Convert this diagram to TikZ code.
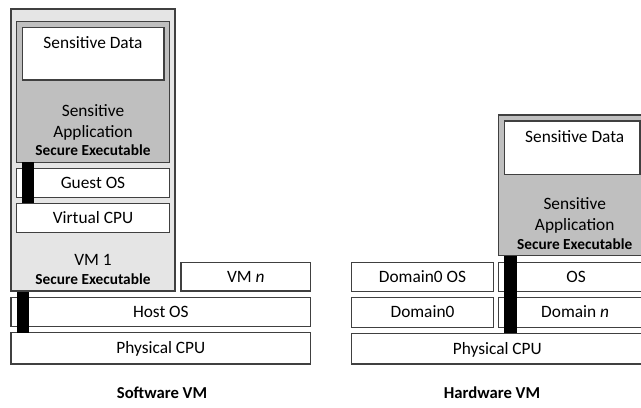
\documentclass[tikz,border=0pt]{standalone}
\usepackage{fontspec}
\setmainfont{Carlito}
\usetikzlibrary{fit}
\begin{document}
\begin{tikzpicture}[x=0.75pt,y=-0.75pt,
 box/.style={draw=black!75, line width=0.8pt, fill=white, inner sep=0pt},
 vmbox/.style={box, fill=black!10},
 appbox/.style={box, fill=black!25},
 bar/.style={fill=black, draw=none, inner sep=0pt},
 txt/.style={inner sep=0pt, font=\fontsize{13}{15.75}\selectfont, align=center},
 boxtxt/.style={inner sep=0pt, font=\fontsize{13}{15.75}\selectfont, anchor=base},
 sec/.style={inner sep=0pt, font=\fontsize{11.5}{13}\selectfont\bfseries},
 captxt/.style={inner sep=0pt, font=\fontsize{12.5}{15}\selectfont\bfseries}]
\useasboundingbox (0,0) rectangle (641,407);
\clip (0,0) rectangle (641,407);
% ---------- Software VM ----------
\node[vmbox, fit={(11,9)(175,291)}] (vm1) {};
\node[appbox, fit={(16.7,21.7)(169.3,162.3)}] (app1) {};
\node[box, fit={(22.3,27.3)(164,80)}] (data1) {};
\node[txt] (data1t) at (93,43) {Sensitive Data};
\node[txt] (app1t) at (93,122) {Sensitive\\Application};
\node[sec] (app1s) at (93,150) {Secure Executable};
\node[box, fit={(16.7,168.3)(169.3,197.5)}] (guest) {};
\node[boxtxt] (guestt) at ([yshift=-4.1pt]guest.center) {Guest OS};
\node[box, fit={(16.7,203.3)(169.3,232.7)}] (vcpu) {};
\node[boxtxt] (vcput) at ([yshift=-4.1pt]vcpu.center) {Virtual CPU};
\node[txt] (vm1t) at (93,260) {VM 1};
\node[sec] (vm1s) at (93,279) {Secure Executable};
\node[box, fit={(181,262.3)(310.7,291)}] (vmn) {};
\node[boxtxt] (vmnt) at ([yshift=-4.1pt]vmn.center) {VM \textit{n}};
\node[box, fit={(11,297.3)(310.7,326.7)}] (host) {};
\node[boxtxt] (hostt) at ([yshift=-4.1pt]host.center) {Host OS};
\node[box, fit={(11,332.7)(310.7,364)}] (pcpu1) {};
\node[boxtxt] (pcpu1t) at ([yshift=-4.1pt]pcpu1.center) {Physical CPU};
\node[bar, fit={(22.3,162.3)(34,203.3)}] (bar1) {};
\node[bar, fit={(16.7,291.7)(29,332.7)}] (bar2) {};
\node[captxt] (swcap) at (162,393) {Software VM};
% ---------- Hardware VM ----------
\node[box, fit={(351.7,262.3)(493.3,291.7)}] (d0os) {};
\node[boxtxt] (d0ost) at ([yshift=-4.1pt]d0os.center) {Domain0 OS};
\node[box, fit={(351.7,297.7)(493.3,327.3)}] (d0) {};
\node[boxtxt] (d0t) at ([yshift=-4.1pt]d0.center) {Domain0};
\node[box, fit={(498.3,262.3)(654,291.7)}] (os) {};
\node[boxtxt] (ost) at ([yshift=-4.1pt]os.center) {OS};
\node[box, fit={(498.3,297.7)(652,327.3)}] (domn) {};
\node[boxtxt] (domnt) at ([yshift=-4.1pt]domn.center) {Domain \textit{n}};
\node[box, fit={(351.7,333.3)(643,364)}] (pcpu2) {};
\node[boxtxt] (pcpu2t) at ([yshift=-4.1pt]pcpu2.center) {Physical CPU};
\node[appbox, fit={(498.3,115)(651,255.7)}] (app2) {};
\node[box, fit={(504.3,121)(640,174.3)}] (data2) {};
\node[txt] (data2t) at (574.7,137) {Sensitive Data};
\node[txt] (app2t) at (574.7,215.5) {Sensitive\\Application};
\node[sec] (app2s) at (574.7,244.3) {Secure Executable};
\node[bar, fit={(504.3,255.7)(516.7,333.3)}] (bar3) {};
\node[captxt] (hwcap) at (492,393) {Hardware VM};
\end{tikzpicture}
\end{document}
